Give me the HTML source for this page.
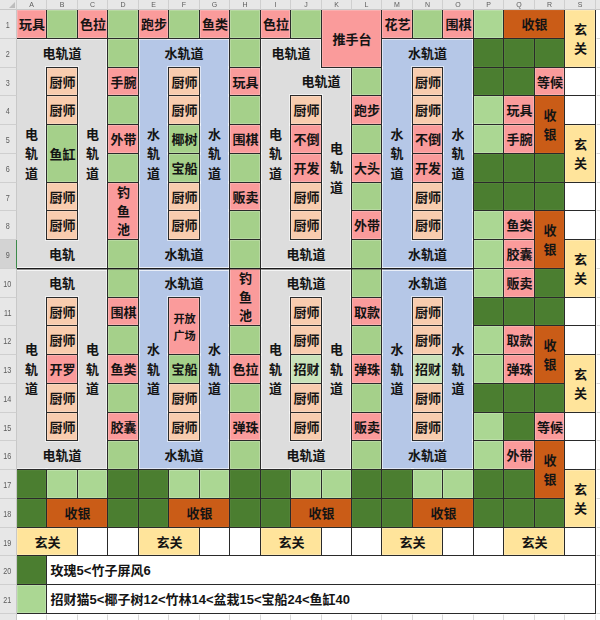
<!DOCTYPE html>
<html lang="zh-CN"><head><meta charset="utf-8"><title>布局表</title>
<style>
html,body{margin:0;padding:0;background:#fff}
body{width:600px;height:620px;overflow:hidden;font-family:"Liberation Sans",sans-serif}
.sheet{position:relative;width:600px;height:620px;overflow:hidden;background:#fff;isolation:isolate}
.c{position:absolute;box-sizing:border-box;display:flex;align-items:center;justify-content:center}
.c.b{border:1px solid #2a2a2a;box-shadow:inset 0 0 0 1px rgba(255,255,255,.2)}
.c.b::before,.dbl::before{content:"";position:absolute;left:-2px;top:-2px;right:-2px;bottom:-2px;border:1px solid rgba(255,255,255,.55);z-index:-1}
.c.gy,.c.bl{z-index:-2}
.c.b.dg,.c.b.br{box-shadow:inset 0 0 0 1px rgba(255,255,255,.04)}
.c.ml{flex-direction:column;gap:5.3px;padding-top:2px}
.c.note{justify-content:flex-start;padding-left:3px}
.t{display:block;color:#141414;font-family:"Liberation Sans","Noto Sans CJK SC",sans-serif;font-weight:bold;font-size:13px;line-height:13px;white-space:nowrap;flex:none;position:relative;top:0.9px;left:.6px}
.t.v{line-height:19.3px;text-align:center}
.t.s{font-size:11.2px;line-height:11.2px}
.pk{background:#fa9b9b}
.g1{background:#a5d08a}
.g2{background:#abd793}
.g3{background:#c9e3ba}
.dg{background:#4b7e30}
.br{background:#ca5c17}
.or{background:#f8ccae}
.yl{background:#ffe49b}
.bl{background:#b5c7e7}
.gy{background:#dddddd}
.wh{background:#ffffff}

.gh{z-index:-3;position:absolute;left:0;width:600px;height:1px;background:#d9d9d9}
.gv{z-index:-3;position:absolute;top:0;width:1px;height:620px;background:#d9d9d9}
.ch{will-change:transform;position:absolute;top:0;height:10px;box-sizing:border-box;background:#e7e7e7;border-right:1px solid #cfcfcf;border-bottom:1px solid #c8c8c8;color:#5c5c5c;font-size:7px;line-height:10px;text-align:center}
.rh{will-change:transform;position:absolute;left:0;width:17px;box-sizing:border-box;background:#e7e7e7;border-right:1px solid #c8c8c8;border-bottom:1px solid #cfcfcf;color:#5c5c5c;font-size:8.4px;text-align:center;display:flex;align-items:center;justify-content:center}
.rh span{display:block;transform:translate(-.5px,.6px) scaleX(.86)}
.rh.sel{background:#d3d3d3;border-right:1px solid #3c8a4a}
.corner{position:absolute;left:0;top:0;width:17px;height:10px;background:#e7e7e7;box-sizing:border-box;border-right:1px solid #cfcfcf;border-bottom:1px solid #c8c8c8}
.corner:after{content:"";position:absolute;right:1px;bottom:1px;border-left:6px solid transparent;border-bottom:6px solid #bdbdbd}
.dbl{position:absolute;left:17px;width:457px;top:268px;height:2px;background:linear-gradient(#1c1c1c 0,#1c1c1c 50%,rgba(28,28,28,.4) 50%,rgba(28,28,28,.4) 100%)}
.dbl::before{left:0;right:0;top:-1px;bottom:-1px;border-left:0;border-right:0;border-color:rgba(255,255,255,.7)}
</style></head>
<body>
<div class="sheet">
<i class="gh" style="top:9px"></i><i class="gh" style="top:38px"></i><i class="gh" style="top:67px"></i><i class="gh" style="top:95px"></i><i class="gh" style="top:124px"></i><i class="gh" style="top:153px"></i><i class="gh" style="top:182px"></i><i class="gh" style="top:210px"></i><i class="gh" style="top:239px"></i><i class="gh" style="top:268px"></i><i class="gh" style="top:297px"></i><i class="gh" style="top:325px"></i><i class="gh" style="top:354px"></i><i class="gh" style="top:383px"></i><i class="gh" style="top:412px"></i><i class="gh" style="top:440px"></i><i class="gh" style="top:469px"></i><i class="gh" style="top:498px"></i><i class="gh" style="top:527px"></i><i class="gh" style="top:555px"></i><i class="gh" style="top:584px"></i><i class="gh" style="top:613px"></i><i class="gh" style="top:642px"></i><i class="gv" style="left:16px"></i><i class="gv" style="left:46px"></i><i class="gv" style="left:77px"></i><i class="gv" style="left:107px"></i><i class="gv" style="left:138px"></i><i class="gv" style="left:168px"></i><i class="gv" style="left:199px"></i><i class="gv" style="left:229px"></i><i class="gv" style="left:260px"></i><i class="gv" style="left:290px"></i><i class="gv" style="left:321px"></i><i class="gv" style="left:351px"></i><i class="gv" style="left:381px"></i><i class="gv" style="left:412px"></i><i class="gv" style="left:442px"></i><i class="gv" style="left:473px"></i><i class="gv" style="left:503px"></i><i class="gv" style="left:534px"></i><i class="gv" style="left:564px"></i><i class="gv" style="left:595px"></i><i class="gv" style="left:625px"></i>
<div class="c gy" style="left:16px;top:38px;width:91px;height:230px"></div>
<div class="c gy" style="left:16px;top:268px;width:91px;height:201px"></div>
<div class="c gy" style="left:260px;top:38px;width:91px;height:230px"></div>
<div class="c gy" style="left:260px;top:268px;width:91px;height:201px"></div>
<div class="c bl" style="left:138px;top:38px;width:91px;height:230px"></div>
<div class="c bl" style="left:138px;top:268px;width:91px;height:201px"></div>
<div class="c bl" style="left:381px;top:38px;width:92px;height:230px"></div>
<div class="c bl" style="left:381px;top:268px;width:92px;height:201px"></div>
<div class="c pk b" style="left:16px;top:9px;width:31px;height:30px"><span class="t">玩具</span></div>
<div class="c g1 b" style="left:46px;top:9px;width:32px;height:30px"></div>
<div class="c pk b" style="left:77px;top:9px;width:31px;height:30px"><span class="t">色拉</span></div>
<div class="c g1 b" style="left:107px;top:9px;width:32px;height:30px"></div>
<div class="c pk b" style="left:138px;top:9px;width:31px;height:30px"><span class="t">跑步</span></div>
<div class="c g1 b" style="left:168px;top:9px;width:32px;height:30px"></div>
<div class="c pk b" style="left:199px;top:9px;width:31px;height:30px"><span class="t">鱼类</span></div>
<div class="c g1 b" style="left:229px;top:9px;width:32px;height:30px"></div>
<div class="c pk b" style="left:260px;top:9px;width:31px;height:30px"><span class="t">色拉</span></div>
<div class="c g1 b" style="left:290px;top:9px;width:32px;height:30px"></div>
<div class="c pk b" style="left:381px;top:9px;width:32px;height:30px"><span class="t">花艺</span></div>
<div class="c g1 b" style="left:412px;top:9px;width:31px;height:30px"></div>
<div class="c pk b" style="left:442px;top:9px;width:32px;height:30px"><span class="t">围棋</span></div>
<div class="c g2 b" style="left:473px;top:9px;width:31px;height:30px"></div>
<div class="c pk b" style="left:321px;top:9px;width:61px;height:59px"><span class="t">推手台</span></div>
<div class="c br b" style="left:503px;top:9px;width:62px;height:30px"><span class="t">收银</span></div>
<div class="c g1 b" style="left:107px;top:38px;width:32px;height:30px"></div>
<div class="c pk b" style="left:107px;top:67px;width:32px;height:29px"><span class="t">手腕</span></div>
<div class="c g1 b" style="left:107px;top:95px;width:32px;height:30px"></div>
<div class="c pk b" style="left:107px;top:124px;width:32px;height:30px"><span class="t">外带</span></div>
<div class="c g1 b" style="left:107px;top:153px;width:32px;height:30px"></div>
<div class="c pk b" style="left:107px;top:182px;width:32px;height:58px"><span class="t v" style="line-height:18.7px">钓<br>鱼<br>池</span></div>
<div class="c g1 b" style="left:107px;top:239px;width:32px;height:30px"></div>
<div class="c g1 b" style="left:107px;top:268px;width:32px;height:30px"></div>
<div class="c pk b" style="left:107px;top:297px;width:32px;height:29px"><span class="t">围棋</span></div>
<div class="c g1 b" style="left:107px;top:325px;width:32px;height:30px"></div>
<div class="c pk b" style="left:107px;top:354px;width:32px;height:30px"><span class="t">鱼类</span></div>
<div class="c g1 b" style="left:107px;top:383px;width:32px;height:30px"></div>
<div class="c pk b" style="left:107px;top:412px;width:32px;height:29px"><span class="t">胶囊</span></div>
<div class="c g1 b" style="left:107px;top:440px;width:32px;height:30px"></div>
<div class="c g1 b" style="left:229px;top:38px;width:32px;height:30px"></div>
<div class="c pk b" style="left:229px;top:67px;width:32px;height:29px"><span class="t">玩具</span></div>
<div class="c g1 b" style="left:229px;top:95px;width:32px;height:30px"></div>
<div class="c pk b" style="left:229px;top:124px;width:32px;height:30px"><span class="t">围棋</span></div>
<div class="c g1 b" style="left:229px;top:153px;width:32px;height:30px"></div>
<div class="c pk b" style="left:229px;top:182px;width:32px;height:29px"><span class="t">贩卖</span></div>
<div class="c g1 b" style="left:229px;top:210px;width:32px;height:30px"></div>
<div class="c g1 b" style="left:229px;top:239px;width:32px;height:30px"></div>
<div class="c pk b" style="left:229px;top:268px;width:32px;height:58px"><span class="t v" style="line-height:18.7px">钓<br>鱼<br>池</span></div>
<div class="c g1 b" style="left:229px;top:325px;width:32px;height:30px"></div>
<div class="c pk b" style="left:229px;top:354px;width:32px;height:30px"><span class="t">色拉</span></div>
<div class="c g1 b" style="left:229px;top:383px;width:32px;height:30px"></div>
<div class="c pk b" style="left:229px;top:412px;width:32px;height:29px"><span class="t">弹珠</span></div>
<div class="c g1 b" style="left:229px;top:440px;width:32px;height:30px"></div>
<div class="c g1 b" style="left:351px;top:67px;width:31px;height:29px"></div>
<div class="c pk b" style="left:351px;top:95px;width:31px;height:30px"><span class="t">跑步</span></div>
<div class="c g1 b" style="left:351px;top:124px;width:31px;height:30px"></div>
<div class="c pk b" style="left:351px;top:153px;width:31px;height:30px"><span class="t">大头</span></div>
<div class="c g1 b" style="left:351px;top:182px;width:31px;height:29px"></div>
<div class="c pk b" style="left:351px;top:210px;width:31px;height:30px"><span class="t">外带</span></div>
<div class="c g1 b" style="left:351px;top:239px;width:31px;height:30px"></div>
<div class="c g1 b" style="left:351px;top:268px;width:31px;height:30px"></div>
<div class="c pk b" style="left:351px;top:297px;width:31px;height:29px"><span class="t">取款</span></div>
<div class="c g1 b" style="left:351px;top:325px;width:31px;height:30px"></div>
<div class="c pk b" style="left:351px;top:354px;width:31px;height:30px"><span class="t">弹珠</span></div>
<div class="c g1 b" style="left:351px;top:383px;width:31px;height:30px"></div>
<div class="c pk b" style="left:351px;top:412px;width:31px;height:29px"><span class="t">贩卖</span></div>
<div class="c g1 b" style="left:351px;top:440px;width:31px;height:30px"></div>
<div class="c dg b" style="left:473px;top:38px;width:31px;height:30px"></div>
<div class="c dg b" style="left:473px;top:67px;width:31px;height:29px"></div>
<div class="c g2 b" style="left:473px;top:95px;width:31px;height:30px"></div>
<div class="c g2 b" style="left:473px;top:124px;width:31px;height:30px"></div>
<div class="c dg b" style="left:473px;top:153px;width:31px;height:30px"></div>
<div class="c dg b" style="left:473px;top:182px;width:31px;height:29px"></div>
<div class="c g2 b" style="left:473px;top:210px;width:31px;height:30px"></div>
<div class="c g2 b" style="left:473px;top:239px;width:31px;height:30px"></div>
<div class="c g2 b" style="left:473px;top:268px;width:31px;height:30px"></div>
<div class="c dg b" style="left:473px;top:297px;width:31px;height:29px"></div>
<div class="c g2 b" style="left:473px;top:325px;width:31px;height:30px"></div>
<div class="c g2 b" style="left:473px;top:354px;width:31px;height:30px"></div>
<div class="c dg b" style="left:473px;top:383px;width:31px;height:30px"></div>
<div class="c g2 b" style="left:473px;top:412px;width:31px;height:29px"></div>
<div class="c g2 b" style="left:473px;top:440px;width:31px;height:30px"></div>
<div class="c dg b" style="left:473px;top:469px;width:31px;height:30px"></div>
<div class="c dg b" style="left:473px;top:498px;width:31px;height:30px"></div>
<div class="c dg b" style="left:503px;top:38px;width:32px;height:30px"></div>
<div class="c dg b" style="left:503px;top:67px;width:32px;height:29px"></div>
<div class="c pk b" style="left:503px;top:95px;width:32px;height:30px"><span class="t">玩具</span></div>
<div class="c pk b" style="left:503px;top:124px;width:32px;height:30px"><span class="t">手腕</span></div>
<div class="c dg b" style="left:503px;top:153px;width:32px;height:30px"></div>
<div class="c dg b" style="left:503px;top:182px;width:32px;height:29px"></div>
<div class="c pk b" style="left:503px;top:210px;width:32px;height:30px"><span class="t">鱼类</span></div>
<div class="c pk b" style="left:503px;top:239px;width:32px;height:30px"><span class="t">胶囊</span></div>
<div class="c pk b" style="left:503px;top:268px;width:32px;height:30px"><span class="t">贩卖</span></div>
<div class="c dg b" style="left:503px;top:297px;width:32px;height:29px"></div>
<div class="c pk b" style="left:503px;top:325px;width:32px;height:30px"><span class="t">取款</span></div>
<div class="c pk b" style="left:503px;top:354px;width:32px;height:30px"><span class="t">弹珠</span></div>
<div class="c dg b" style="left:503px;top:383px;width:32px;height:30px"></div>
<div class="c dg b" style="left:503px;top:412px;width:32px;height:29px"></div>
<div class="c pk b" style="left:503px;top:440px;width:32px;height:30px"><span class="t">外带</span></div>
<div class="c dg b" style="left:503px;top:469px;width:32px;height:30px"></div>
<div class="c dg b" style="left:503px;top:498px;width:32px;height:30px"></div>
<div class="c dg b" style="left:534px;top:38px;width:31px;height:30px"></div>
<div class="c pk b" style="left:534px;top:67px;width:31px;height:29px"><span class="t">等候</span></div>
<div class="c br b" style="left:534px;top:95px;width:31px;height:59px"><span class="t v">收<br>银</span></div>
<div class="c dg b" style="left:534px;top:153px;width:31px;height:30px"></div>
<div class="c dg b" style="left:534px;top:182px;width:31px;height:29px"></div>
<div class="c br b" style="left:534px;top:210px;width:31px;height:59px"><span class="t v">收<br>银</span></div>
<div class="c dg b" style="left:534px;top:268px;width:31px;height:30px"></div>
<div class="c dg b" style="left:534px;top:297px;width:31px;height:29px"></div>
<div class="c br b" style="left:534px;top:325px;width:31px;height:59px"><span class="t v">收<br>银</span></div>
<div class="c dg b" style="left:534px;top:383px;width:31px;height:30px"></div>
<div class="c pk b" style="left:534px;top:412px;width:31px;height:29px"><span class="t">等候</span></div>
<div class="c br b" style="left:534px;top:440px;width:31px;height:59px"><span class="t v">收<br>银</span></div>
<div class="c dg b" style="left:534px;top:498px;width:31px;height:30px"></div>
<div class="c yl b" style="left:564px;top:9px;width:32px;height:59px"><span class="t v">玄<br>关</span></div>
<div class="c wh b" style="left:564px;top:67px;width:32px;height:29px"></div>
<div class="c wh b" style="left:564px;top:95px;width:32px;height:30px"></div>
<div class="c yl b" style="left:564px;top:124px;width:32px;height:59px"><span class="t v">玄<br>关</span></div>
<div class="c wh b" style="left:564px;top:182px;width:32px;height:29px"></div>
<div class="c wh b" style="left:564px;top:210px;width:32px;height:30px"></div>
<div class="c yl b" style="left:564px;top:239px;width:32px;height:59px"><span class="t v">玄<br>关</span></div>
<div class="c wh b" style="left:564px;top:297px;width:32px;height:29px"></div>
<div class="c wh b" style="left:564px;top:325px;width:32px;height:30px"></div>
<div class="c yl b" style="left:564px;top:354px;width:32px;height:59px"><span class="t v">玄<br>关</span></div>
<div class="c wh b" style="left:564px;top:412px;width:32px;height:29px"></div>
<div class="c wh b" style="left:564px;top:440px;width:32px;height:30px"></div>
<div class="c yl b" style="left:564px;top:469px;width:32px;height:59px"><span class="t v">玄<br>关</span></div>
<div class="c wh b" style="left:564px;top:527px;width:32px;height:29px"></div>
<div class="c or b" style="left:46px;top:67px;width:32px;height:29px"><span class="t">厨师</span></div>
<div class="c or b" style="left:46px;top:95px;width:32px;height:30px"><span class="t">厨师</span></div>
<div class="c g1 b" style="left:46px;top:124px;width:32px;height:59px"><span class="t">鱼缸</span></div>
<div class="c or b" style="left:46px;top:182px;width:32px;height:29px"><span class="t">厨师</span></div>
<div class="c or b" style="left:46px;top:210px;width:32px;height:30px"><span class="t">厨师</span></div>
<div class="c or b" style="left:46px;top:297px;width:32px;height:29px"><span class="t">厨师</span></div>
<div class="c or b" style="left:46px;top:325px;width:32px;height:30px"><span class="t">厨师</span></div>
<div class="c pk b" style="left:46px;top:354px;width:32px;height:30px"><span class="t">开罗</span></div>
<div class="c or b" style="left:46px;top:383px;width:32px;height:30px"><span class="t">厨师</span></div>
<div class="c or b" style="left:46px;top:412px;width:32px;height:29px"><span class="t">厨师</span></div>
<div class="c or b" style="left:168px;top:67px;width:32px;height:29px"><span class="t">厨师</span></div>
<div class="c or b" style="left:168px;top:95px;width:32px;height:30px"><span class="t">厨师</span></div>
<div class="c g1 b" style="left:168px;top:124px;width:32px;height:30px"><span class="t">椰树</span></div>
<div class="c g1 b" style="left:168px;top:153px;width:32px;height:30px"><span class="t">宝船</span></div>
<div class="c or b" style="left:168px;top:182px;width:32px;height:29px"><span class="t">厨师</span></div>
<div class="c or b" style="left:168px;top:210px;width:32px;height:30px"><span class="t">厨师</span></div>
<div class="c pk b ml" style="left:168px;top:297px;width:32px;height:58px"><span class="t s">开放</span><span class="t s">广场</span></div>
<div class="c g1 b" style="left:168px;top:354px;width:32px;height:30px"><span class="t">宝船</span></div>
<div class="c or b" style="left:168px;top:383px;width:32px;height:30px"><span class="t">厨师</span></div>
<div class="c or b" style="left:168px;top:412px;width:32px;height:29px"><span class="t">厨师</span></div>
<div class="c or b" style="left:290px;top:95px;width:32px;height:30px"><span class="t">厨师</span></div>
<div class="c pk b" style="left:290px;top:124px;width:32px;height:30px"><span class="t">不倒</span></div>
<div class="c pk b" style="left:290px;top:153px;width:32px;height:30px"><span class="t">开发</span></div>
<div class="c or b" style="left:290px;top:182px;width:32px;height:29px"><span class="t">厨师</span></div>
<div class="c or b" style="left:290px;top:210px;width:32px;height:30px"><span class="t">厨师</span></div>
<div class="c or b" style="left:290px;top:297px;width:32px;height:29px"><span class="t">厨师</span></div>
<div class="c or b" style="left:290px;top:325px;width:32px;height:30px"><span class="t">厨师</span></div>
<div class="c g3 b" style="left:290px;top:354px;width:32px;height:30px"><span class="t">招财</span></div>
<div class="c or b" style="left:290px;top:383px;width:32px;height:30px"><span class="t">厨师</span></div>
<div class="c or b" style="left:290px;top:412px;width:32px;height:29px"><span class="t">厨师</span></div>
<div class="c or b" style="left:412px;top:67px;width:31px;height:29px"><span class="t">厨师</span></div>
<div class="c or b" style="left:412px;top:95px;width:31px;height:30px"><span class="t">厨师</span></div>
<div class="c pk b" style="left:412px;top:124px;width:31px;height:30px"><span class="t">不倒</span></div>
<div class="c pk b" style="left:412px;top:153px;width:31px;height:30px"><span class="t">开发</span></div>
<div class="c or b" style="left:412px;top:182px;width:31px;height:29px"><span class="t">厨师</span></div>
<div class="c or b" style="left:412px;top:210px;width:31px;height:30px"><span class="t">厨师</span></div>
<div class="c or b" style="left:412px;top:297px;width:31px;height:29px"><span class="t">厨师</span></div>
<div class="c or b" style="left:412px;top:325px;width:31px;height:30px"><span class="t">厨师</span></div>
<div class="c g3 b" style="left:412px;top:354px;width:31px;height:30px"><span class="t">招财</span></div>
<div class="c or b" style="left:412px;top:383px;width:31px;height:30px"><span class="t">厨师</span></div>
<div class="c or b" style="left:412px;top:412px;width:31px;height:29px"><span class="t">厨师</span></div>
<div class="c no" style="left:16px;top:38px;width:91px;height:29px"><span class="t">电轨道</span></div>
<div class="c no" style="left:138px;top:38px;width:91px;height:29px"><span class="t">水轨道</span></div>
<div class="c no" style="left:260px;top:38px;width:61px;height:29px"><span class="t">电轨道</span></div>
<div class="c no" style="left:290px;top:67px;width:61px;height:28px"><span class="t">电轨道</span></div>
<div class="c no" style="left:381px;top:38px;width:92px;height:29px"><span class="t">水轨道</span></div>
<div class="c no" style="left:16px;top:239px;width:91px;height:29px"><span class="t">电轨</span></div>
<div class="c no" style="left:138px;top:239px;width:91px;height:29px"><span class="t">水轨道</span></div>
<div class="c no" style="left:260px;top:239px;width:91px;height:29px"><span class="t">电轨道</span></div>
<div class="c no" style="left:381px;top:239px;width:92px;height:29px"><span class="t">水轨道</span></div>
<div class="c no" style="left:16px;top:268px;width:91px;height:29px"><span class="t">电轨</span></div>
<div class="c no" style="left:138px;top:268px;width:91px;height:29px"><span class="t">水轨道</span></div>
<div class="c no" style="left:260px;top:268px;width:91px;height:29px"><span class="t">电轨道</span></div>
<div class="c no" style="left:381px;top:268px;width:92px;height:29px"><span class="t">水轨道</span></div>
<div class="c no" style="left:16px;top:440px;width:91px;height:29px"><span class="t">电轨道</span></div>
<div class="c no" style="left:138px;top:440px;width:91px;height:29px"><span class="t">水轨道</span></div>
<div class="c no" style="left:260px;top:440px;width:91px;height:29px"><span class="t">电轨道</span></div>
<div class="c no" style="left:381px;top:440px;width:92px;height:29px"><span class="t">水轨道</span></div>
<div class="c no" style="left:16px;top:67px;width:30px;height:172px"><span class="t v">电<br>轨<br>道</span></div>
<div class="c no" style="left:77px;top:67px;width:30px;height:172px"><span class="t v">电<br>轨<br>道</span></div>
<div class="c no" style="left:138px;top:67px;width:30px;height:172px"><span class="t v">水<br>轨<br>道</span></div>
<div class="c no" style="left:199px;top:67px;width:30px;height:172px"><span class="t v">水<br>轨<br>道</span></div>
<div class="c no" style="left:260px;top:67px;width:30px;height:172px"><span class="t v">电<br>轨<br>道</span></div>
<div class="c no" style="left:321px;top:95px;width:30px;height:144px"><span class="t v">电<br>轨<br>道</span></div>
<div class="c no" style="left:381px;top:67px;width:31px;height:172px"><span class="t v">水<br>轨<br>道</span></div>
<div class="c no" style="left:442px;top:67px;width:31px;height:172px"><span class="t v">水<br>轨<br>道</span></div>
<div class="c no" style="left:16px;top:297px;width:30px;height:143px"><span class="t v">电<br>轨<br>道</span></div>
<div class="c no" style="left:77px;top:297px;width:30px;height:143px"><span class="t v">电<br>轨<br>道</span></div>
<div class="c no" style="left:138px;top:297px;width:30px;height:143px"><span class="t v">水<br>轨<br>道</span></div>
<div class="c no" style="left:199px;top:297px;width:30px;height:143px"><span class="t v">水<br>轨<br>道</span></div>
<div class="c no" style="left:260px;top:297px;width:30px;height:143px"><span class="t v">电<br>轨<br>道</span></div>
<div class="c no" style="left:321px;top:297px;width:30px;height:143px"><span class="t v">电<br>轨<br>道</span></div>
<div class="c no" style="left:381px;top:297px;width:31px;height:143px"><span class="t v">水<br>轨<br>道</span></div>
<div class="c no" style="left:442px;top:297px;width:31px;height:143px"><span class="t v">水<br>轨<br>道</span></div>
<div class="c dg b" style="left:16px;top:469px;width:31px;height:30px"></div>
<div class="c g2 b" style="left:46px;top:469px;width:32px;height:30px"></div>
<div class="c g2 b" style="left:77px;top:469px;width:31px;height:30px"></div>
<div class="c dg b" style="left:107px;top:469px;width:32px;height:30px"></div>
<div class="c dg b" style="left:138px;top:469px;width:31px;height:30px"></div>
<div class="c g2 b" style="left:168px;top:469px;width:32px;height:30px"></div>
<div class="c g2 b" style="left:199px;top:469px;width:31px;height:30px"></div>
<div class="c dg b" style="left:229px;top:469px;width:32px;height:30px"></div>
<div class="c dg b" style="left:260px;top:469px;width:31px;height:30px"></div>
<div class="c g2 b" style="left:290px;top:469px;width:32px;height:30px"></div>
<div class="c g2 b" style="left:321px;top:469px;width:31px;height:30px"></div>
<div class="c dg b" style="left:351px;top:469px;width:31px;height:30px"></div>
<div class="c dg b" style="left:381px;top:469px;width:32px;height:30px"></div>
<div class="c g2 b" style="left:412px;top:469px;width:31px;height:30px"></div>
<div class="c g2 b" style="left:442px;top:469px;width:32px;height:30px"></div>
<div class="c dg b" style="left:16px;top:498px;width:31px;height:30px"></div>
<div class="c dg b" style="left:107px;top:498px;width:32px;height:30px"></div>
<div class="c dg b" style="left:138px;top:498px;width:31px;height:30px"></div>
<div class="c dg b" style="left:229px;top:498px;width:32px;height:30px"></div>
<div class="c dg b" style="left:260px;top:498px;width:31px;height:30px"></div>
<div class="c dg b" style="left:351px;top:498px;width:31px;height:30px"></div>
<div class="c dg b" style="left:381px;top:498px;width:32px;height:30px"></div>
<div class="c br b" style="left:46px;top:498px;width:62px;height:30px"><span class="t">收银</span></div>
<div class="c br b" style="left:168px;top:498px;width:62px;height:30px"><span class="t">收银</span></div>
<div class="c br b" style="left:290px;top:498px;width:62px;height:30px"><span class="t">收银</span></div>
<div class="c br b" style="left:412px;top:498px;width:62px;height:30px"><span class="t">收银</span></div>
<div class="c yl b" style="left:16px;top:527px;width:62px;height:29px"><span class="t">玄关</span></div>
<div class="c yl b" style="left:138px;top:527px;width:62px;height:29px"><span class="t">玄关</span></div>
<div class="c yl b" style="left:260px;top:527px;width:62px;height:29px"><span class="t">玄关</span></div>
<div class="c yl b" style="left:381px;top:527px;width:62px;height:29px"><span class="t">玄关</span></div>
<div class="c yl b" style="left:503px;top:527px;width:62px;height:29px"><span class="t">玄关</span></div>
<div class="c wh b" style="left:77px;top:527px;width:31px;height:29px"></div>
<div class="c wh b" style="left:107px;top:527px;width:32px;height:29px"></div>
<div class="c wh b" style="left:199px;top:527px;width:31px;height:29px"></div>
<div class="c wh b" style="left:229px;top:527px;width:32px;height:29px"></div>
<div class="c wh b" style="left:321px;top:527px;width:31px;height:29px"></div>
<div class="c wh b" style="left:351px;top:527px;width:31px;height:29px"></div>
<div class="c wh b" style="left:442px;top:527px;width:32px;height:29px"></div>
<div class="c wh b" style="left:473px;top:527px;width:31px;height:29px"></div>
<div class="c dg b" style="left:16px;top:555px;width:31px;height:30px"></div>
<div class="c g2 b" style="left:16px;top:584px;width:31px;height:30px"></div>
<div class="c wh b note" style="left:46px;top:555px;width:550px;height:30px"><span class="t">玫瑰5&lt;竹子屏风6</span></div>
<div class="c wh b note" style="left:46px;top:584px;width:550px;height:30px"><span class="t">招财猫5&lt;椰子树12&lt;竹林14&lt;盆栽15&lt;宝船24&lt;鱼缸40</span></div>
<div class="dbl"></div>
<div class="ch" style="left:17px;width:30px">A</div>
<div class="ch" style="left:47px;width:31px">B</div>
<div class="ch" style="left:78px;width:30px">C</div>
<div class="ch" style="left:108px;width:31px">D</div>
<div class="ch" style="left:139px;width:30px">E</div>
<div class="ch" style="left:169px;width:31px">F</div>
<div class="ch" style="left:200px;width:30px">G</div>
<div class="ch" style="left:230px;width:31px">H</div>
<div class="ch" style="left:261px;width:30px">I</div>
<div class="ch" style="left:291px;width:31px">J</div>
<div class="ch" style="left:322px;width:30px">K</div>
<div class="ch" style="left:352px;width:30px">L</div>
<div class="ch" style="left:382px;width:31px">M</div>
<div class="ch" style="left:413px;width:30px">N</div>
<div class="ch" style="left:443px;width:31px">O</div>
<div class="ch" style="left:474px;width:30px">P</div>
<div class="ch" style="left:504px;width:31px">Q</div>
<div class="ch" style="left:535px;width:30px">R</div>
<div class="ch" style="left:565px;width:31px">S</div>
<div class="ch" style="left:596px;width:5px"></div>
<div class="rh" style="top:10px;height:29px"><span>1</span></div>
<div class="rh" style="top:39px;height:29px"><span>2</span></div>
<div class="rh" style="top:68px;height:28px"><span>3</span></div>
<div class="rh" style="top:96px;height:29px"><span>4</span></div>
<div class="rh" style="top:125px;height:29px"><span>5</span></div>
<div class="rh" style="top:154px;height:29px"><span>6</span></div>
<div class="rh" style="top:183px;height:28px"><span>7</span></div>
<div class="rh" style="top:211px;height:29px"><span>8</span></div>
<div class="rh sel" style="top:240px;height:29px"><span>9</span></div>
<div class="rh" style="top:269px;height:29px"><span>10</span></div>
<div class="rh" style="top:298px;height:28px"><span>11</span></div>
<div class="rh" style="top:326px;height:29px"><span>12</span></div>
<div class="rh" style="top:355px;height:29px"><span>13</span></div>
<div class="rh" style="top:384px;height:29px"><span>14</span></div>
<div class="rh" style="top:413px;height:28px"><span>15</span></div>
<div class="rh" style="top:441px;height:29px"><span>16</span></div>
<div class="rh" style="top:470px;height:29px"><span>17</span></div>
<div class="rh" style="top:499px;height:29px"><span>18</span></div>
<div class="rh" style="top:528px;height:28px"><span>19</span></div>
<div class="rh" style="top:556px;height:29px"><span>20</span></div>
<div class="rh" style="top:585px;height:29px"><span>21</span></div>
<div class="rh" style="top:614px;height:29px"><span></span></div>
<div class="corner"></div>
</div>
</body></html>
